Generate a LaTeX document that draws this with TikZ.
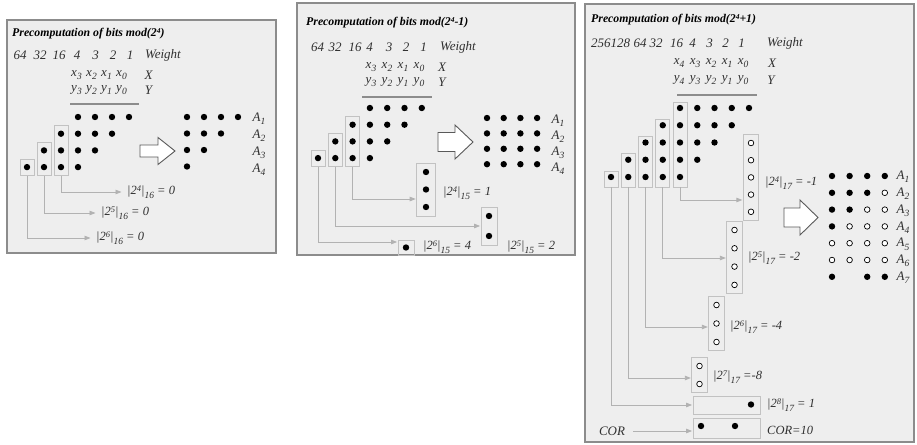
\documentclass[tikz,border=0pt]{standalone}
\usepackage{fontspec}
\setmainfont{Liberation Serif}
\usetikzlibrary{arrows.meta,fit}

\definecolor{panelfill}{HTML}{EEEEEE}
\definecolor{panelline}{HTML}{8C8C8C}
\definecolor{boxline}{HTML}{C2C2C2}
\definecolor{wireline}{HTML}{B2B2B2}
\definecolor{inkgray}{HTML}{303030}

% raised / lowered indices in the italic labels
\newcommand\tsup[1]{\raisebox{0.65ex}{\fontsize{7.5}{8}\selectfont #1}}
\newcommand\supd[1]{\raisebox{0.6ex}{\fontsize{8.5}{9}\selectfont #1}}
\newcommand\subd[1]{\raisebox{-0.55ex}{\fontsize{9.5}{10}\selectfont #1}}
\newcommand\modlab[3]{|2\supd{#1}|\subd{#2} = #3}
% hollow block arrow: x0, y-centre, shaft length, total length, shaft half height, head half height
\newcommand\hollowarrow[6]{%
  \draw[hollow] (#1,#2-#5) -- (#1+#3,#2-#5) -- (#1+#3,#2-#6) -- (#1+#4,#2)
    -- (#1+#3,#2+#6) -- (#1+#3,#2+#5) -- (#1,#2+#5) -- cycle;}

\tikzset{
  panel/.style={draw=panelline, fill=panelfill, line width=1.3pt},
  title/.style={anchor=west, inner sep=0, font=\fontsize{11.8}{13}\selectfont\bfseries\itshape},
  wt/.style={inner sep=0, text=inkgray, font=\fontsize{13}{14}\selectfont\itshape},
  bit/.style={circle, fill=black, inner sep=0, minimum size=6.4pt},
  obit/.style={circle, draw=black, fill=white, line width=0.7pt, inner sep=0, minimum size=5.6pt},
  grp/.style={draw=boxline, line width=0.8pt, inner xsep=3.6pt, inner ysep=4.6pt},
  tgt/.style={draw=boxline, line width=0.8pt, inner xsep=4.6pt, inner ysep=5.5pt},
  wire/.style={draw=wireline, line width=0.8pt, shorten >=0.5pt,
    -{Triangle[length=6pt,width=4.5pt]}},
  lab/.style={anchor=west, inner sep=0, text=inkgray, font=\fontsize{12.5}{13}\selectfont\itshape},
  rowlab/.style={inner sep=0, text=inkgray, font=\fontsize{13}{14}\selectfont\itshape},
  rule/.style={draw=panelline, line width=1.5pt},
  hollow/.style={draw=black!65, fill=white, line width=0.9pt, line join=miter},
}

\begin{document}
\begin{tikzpicture}[x=1pt,y=-1pt]
\useasboundingbox (0,0) rectangle (917,444);

% frames
\draw[panel] (7,20) rectangle (276,253);
\draw[panel] (297,3) rectangle (575,255);
\draw[panel] (585,4) rectangle (914,442);

% ================= mod 2^4 =================
\node[title] (a-title) at (12,34) {Precomputation of bits mod(2\tsup{4})};
\foreach \w/\x [count=\i] in {64/20,32/40,16/59,4/77,3/95.5,2/113,1/130,Weight/163}
  \node[wt] (a-w\i) at (\x,55) {\w};
\foreach \i/\x in {3/76.5,2/91.5,1/106.5,0/121.5} {
  \node[wt] (a-x\i) at (\x,75) {x\subd{\i}};
  \node[wt] (a-y\i) at (\x,90) {y\subd{\i}};
}
\node[wt] (a-X) at (148.5,75) {X};
\node[wt] (a-Y) at (148.5,90) {Y};
\draw[rule] (70,104) -- (139,104);

\foreach \r in {1,...,4} \foreach \k in {1,...,4} {
  \pgfmathtruncatemacro\c{4-\r+\k}
  \node[bit] (a-\r-\c) at ({27+17*(\c-1)},{117+16.7*(\r-1)}) {};
}
\node[grp, fit=(a-4-1)] (a-g1) {};
\node[grp, fit=(a-3-2)(a-4-2)] (a-g2) {};
\node[grp, fit=(a-2-3)(a-4-3)] (a-g3) {};

\node[lab] (a-m4) at (127,192) {\modlab{4}{16}{0}};
\node[lab] (a-m5) at (101,213) {\modlab{5}{16}{0}};
\node[lab] (a-m6) at (96,238) {\modlab{6}{16}{0}};
\draw[wire] (a-g3.south) |- ([xshift=-5pt]a-m4.west);
\draw[wire] (a-g2.south) |- ([xshift=-5pt]a-m5.west);
\draw[wire] (a-g1.south) |- ([xshift=-5pt]a-m6.west);

\hollowarrow{140}{151}{18}{35}{6}{13.5}

\foreach \r in {1,...,4} {
  \pgfmathtruncatemacro\n{5-\r}
  \foreach \c in {1,...,\n}
    \node[bit] (a-A\r-\c) at ({187+17*(\c-1)},{117+16.5*(\r-1)}) {};
  \node[rowlab] (a-L\r) at (259,{119+16.8*(\r-1)}) {A\subd{\r}};
}

% ================= mod 2^4-1 =================
\node[title] (b-title) at (306,23) {Precomputation of bits mod(2\tsup{4}-1)};
\foreach \w/\x [count=\i] in {64/317.5,32/335,16/355,4/369.5,3/389,2/406,1/423.5,Weight/458}
  \node[wt] (b-w\i) at (\x,47) {\w};
\foreach \i/\x in {3/371,2/387,1/403,0/419} {
  \node[wt] (b-x\i) at (\x,67) {x\subd{\i}};
  \node[wt] (b-y\i) at (\x,82) {y\subd{\i}};
}
\node[wt] (b-X) at (442,67) {X};
\node[wt] (b-Y) at (442,82) {Y};
\draw[rule] (362,97) -- (432,97);

\foreach \r in {1,...,4} \foreach \k in {1,...,4} {
  \pgfmathtruncatemacro\c{4-\r+\k}
  \node[bit] (b-\r-\c) at ({318+17.3*(\c-1)},{108+16.7*(\r-1)}) {};
}
\node[grp, fit=(b-4-1)] (b-g1) {};
\node[grp, fit=(b-3-2)(b-4-2)] (b-g2) {};
\node[grp, fit=(b-2-3)(b-4-3)] (b-g3) {};

% folded bits
\node[bit] (b-p1) at (426,172) {};
\node[bit] (b-p2) at (426,189.5) {};
\node[bit] (b-p3) at (426,207) {};
\node[tgt, inner xsep=6pt, fit=(b-p1)(b-p3)] (b-t4) {};
\node[bit] (b-q1) at (489,216) {};
\node[bit] (b-q2) at (489,236) {};
\node[tgt, fit=(b-q1)(b-q2)] (b-t5) {};
\node[bit] (b-s1) at (406,247.5) {};
\node[tgt, inner ysep=4.2pt, fit=(b-s1)] (b-t6) {};

\draw[wire] (b-g3.south) |- (b-t4.west |- 0,199);
\draw[wire] (b-g2.south) |- (b-t5.west |- 0,226);
\draw[wire] (b-g1.south) |- (b-t6.west |- 0,242);
\node[lab] (b-m4) at (443,193) {\modlab{4}{15}{1}};
\node[lab] (b-m5) at (507,247) {\modlab{5}{15}{2}};
\node[lab] (b-m6) at (423,247) {\modlab{6}{15}{4}};

\hollowarrow{438}{142}{17}{35}{9.5}{17}

\foreach \r in {1,...,4} {
  \foreach \c in {1,...,4}
    \node[bit] (b-A\r-\c) at ({487+16.7*(\c-1)},{118+15.4*(\r-1)}) {};
  \node[rowlab] (b-L\r) at (558,{121+15.9*(\r-1)}) {A\subd{\r}};
}

% ================= mod 2^4+1 =================
\node[title] (c-title) at (591,20) {Precomputation of bits mod(2\tsup{4}+1)};
\foreach \w/\x [count=\i] in {256128/610.5,64/640,32/656,16/676.5,4/692.5,3/709.5,2/725.5,1/741.5,Weight/785}
  \node[wt] (c-w\i) at (\x,43) {\w};
\foreach \i/\x in {4/679,3/695,2/711,1/727,0/743} {
  \node[wt] (c-x\i) at (\x,63) {x\subd{\i}};
  \node[wt] (c-y\i) at (\x,80) {y\subd{\i}};
}
\node[wt] (c-X) at (772,63) {X};
\node[wt] (c-Y) at (771,80) {Y};
\draw[rule] (677,95) -- (757,95);

\foreach \r in {1,...,5} \foreach \k in {1,...,5} {
  \pgfmathtruncatemacro\c{5-\r+\k}
  \node[bit] (c-\r-\c) at ({611+17.25*(\c-1)},{108+17.25*(\r-1)}) {};
}
\node[grp, fit=(c-5-1), yshift=-2pt] (c-g1) {};
\node[grp, fit=(c-4-2)(c-5-2), yshift=-2pt] (c-g2) {};
\node[grp, fit=(c-3-3)(c-5-3), yshift=-2pt] (c-g3) {};
\node[grp, fit=(c-2-4)(c-5-4), yshift=-2pt] (c-g4) {};
\node[grp, fit=(c-1-5)(c-5-5), yshift=-2pt] (c-g5) {};

% negated (folded) bits
\foreach \i in {1,...,5}
  \node[obit] (c-p\i) at (751,{143+17.2*(\i-1)}) {};
\node[tgt, fit=(c-p1)(c-p5)] (c-t4) {};
\foreach \i in {1,...,4}
  \node[obit] (c-q\i) at (734.5,{230+18.3*(\i-1)}) {};
\node[tgt, fit=(c-q1)(c-q4)] (c-t5) {};
\foreach \i in {1,...,3}
  \node[obit] (c-s\i) at (716.5,{305+18.5*(\i-1)}) {};
\node[tgt, fit=(c-s1)(c-s3)] (c-t6) {};
\foreach \i in {1,...,2}
  \node[obit] (c-u\i) at (699.5,{366+18*(\i-1)}) {};
\node[tgt, fit=(c-u1)(c-u2)] (c-t7) {};
\node[draw=boxline, line width=0.8pt, minimum width=67pt, minimum height=18pt] (c-t8) at (726.5,405.5) {};
\node[bit] (c-v1) at (751,404.5) {};
\node[draw=boxline, line width=0.8pt, minimum width=67pt, minimum height=20pt] (c-tc) at (726.5,428) {};
\node[bit] (c-k1) at (701,426) {};
\node[bit] (c-k2) at (735,426) {};

\draw[wire] (c-g5.south) |- (c-t4.west |- 0,200);
\draw[wire] (c-g4.south) |- (c-t5.west |- 0,258);
\draw[wire] (c-g3.south) |- (c-t6.west |- 0,327);
\draw[wire] (c-g2.south) |- (c-t7.west |- 0,378);
\draw[wire] (c-g1.south) |- (c-t8.west |- 0,405);
\node[lab] (c-m4) at (765,183) {\modlab{4}{17}{-1}};
\node[lab] (c-m5) at (748,258) {\modlab{5}{17}{-2}};
\node[lab] (c-m6) at (730,327) {\modlab{6}{17}{-4}};
\node[lab] (c-m7) at (713,377) {|2\supd{7}|\subd{17} =-8};
\node[lab] (c-m8) at (767,405) {\modlab{8}{17}{1}};

\node[rowlab] (c-cor) at (612,431) {COR};
\draw[wire, shorten <=8pt] (c-cor.east) -- (c-cor.east -| c-tc.west);
\node[lab] (c-corv) at (767,430) {COR=10};

\hollowarrow{784}{217.5}{16}{34}{9.5}{17.5}

\foreach \r/\pat in {1/{1,1,1,1},2/{1,1,1,0},3/{1,1,0,0},4/{1,0,0,0},
                     5/{0,0,0,0},6/{0,0,0,0},7/{1,2,1,1}} {
  \foreach \v [count=\c] in \pat {
    \ifnum\v=1 \node[bit] (c-A\r-\c) at ({832+17.6*(\c-1)},{176+16.8*(\r-1)}) {};\fi
    \ifnum\v=0 \node[obit] (c-A\r-\c) at ({832+17.6*(\c-1)},{176+16.8*(\r-1)}) {};\fi
  }
  \node[rowlab] (c-L\r) at (903,{177+16.8*(\r-1)}) {A\subd{\r}};
}
\end{tikzpicture}
\end{document}
